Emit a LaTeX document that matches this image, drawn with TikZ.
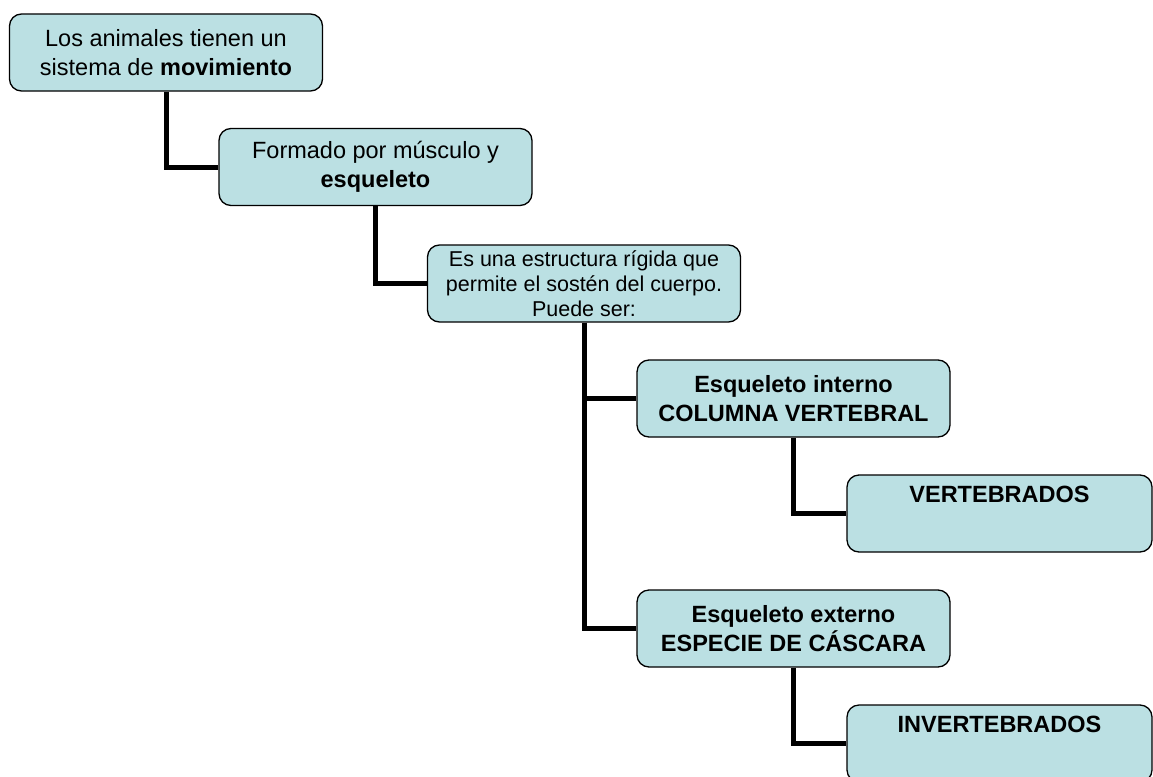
\documentclass[tikz,border=0pt]{standalone}
\usepackage{fontspec}
\setmainfont{Liberation Sans}
\definecolor{boxfill}{RGB}{187,224,227}

\begin{document}
\begin{tikzpicture}[x=1pt, y=-1pt,
  conceptbox/.style={draw=black, fill=boxfill, line width=1.3pt, rounded corners=12pt,
    minimum width=313pt, minimum height=77pt, inner sep=0pt, align=center,
    font=\fontsize{23.5}{29}\selectfont},
  smallbox/.style={conceptbox, font=\fontsize{21.5}{25}\selectfont},
  link/.style={line width=5pt}]
\useasboundingbox (0,0) rectangle (1153,776);
\node[conceptbox] (anim) at (166, 52.5) {Los animales tienen un\\sistema de \textbf{movimiento}};
\node[conceptbox] (form) at (375.5, 167) {Formado por músculo y\\\textbf{esqueleto}};
\node[smallbox] (rig) at (584, 283.5) {Es una estructura rígida que\\permite el sostén del cuerpo.\\Puede ser:};
\node[conceptbox] (int) at (793.5, 398.5) {\textbf{Esqueleto interno}\\\textbf{COLUMNA VERTEBRAL}};
\node[conceptbox, minimum width=305pt] (vert) at (999.5, 513.5) {\textbf{VERTEBRADOS}\\\strut};
\node[conceptbox] (ext) at (793.5, 628.5) {\textbf{Esqueleto externo}\\\textbf{ESPECIE DE CÁSCARA}};
\node[conceptbox, minimum width=305pt] (inv) at (999.5, 743.5) {\textbf{INVERTEBRADOS}\\\strut};
\draw[link] (anim.south) |- (form.west);
\draw[link] (form.south) |- (rig.west);
\draw[link] (rig.south) |- (int.west);
\draw[link] (rig.south) |- (ext.west);
\draw[link] (int.south) |- (vert.west);
\draw[link] (ext.south) |- (inv.west);
\end{tikzpicture}
\end{document}
